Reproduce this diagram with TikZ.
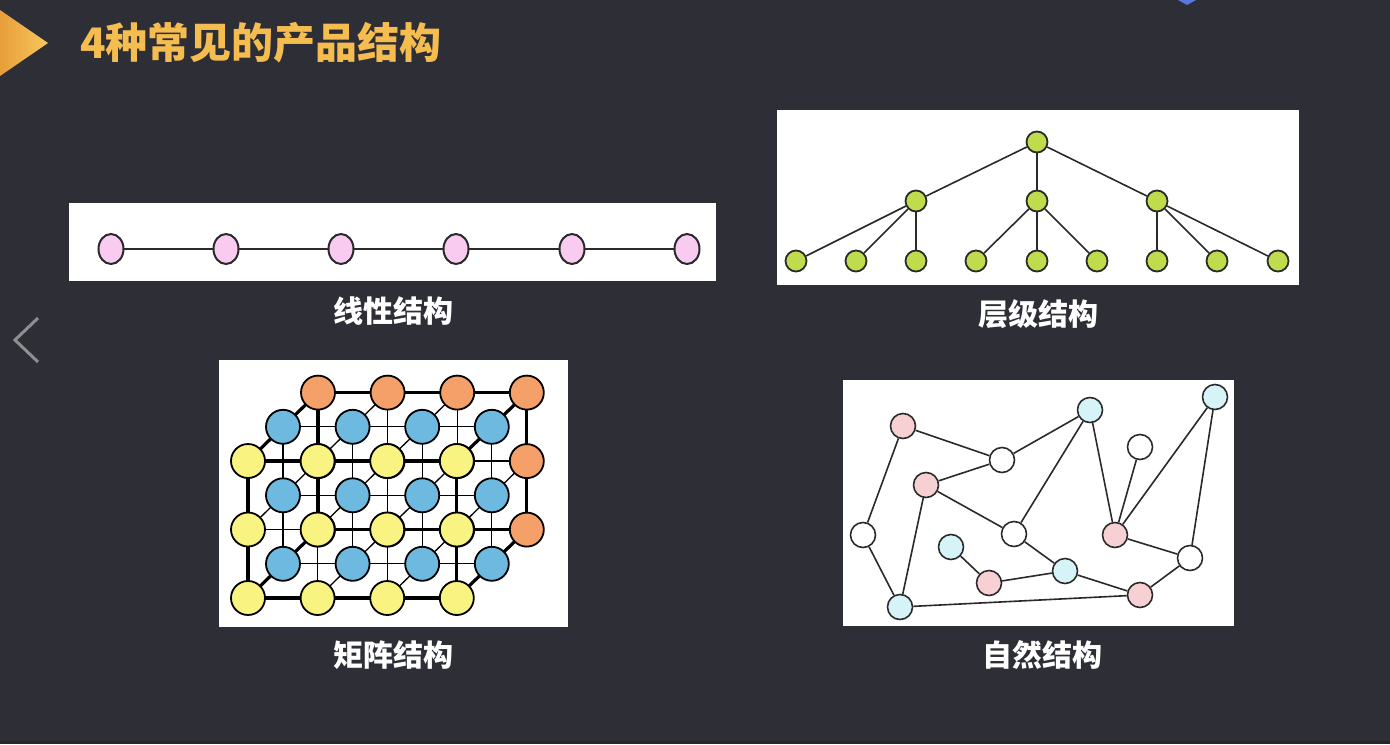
\documentclass[tikz,border=0pt]{standalone}
\usepackage{fontspec}
\newfontfamily\cjk{Noto Sans CJK SC}
\usetikzlibrary{shapes.geometric}
\definecolor{bg}{HTML}{2E2F36}
\definecolor{titlecol}{HTML}{F5BD50}
\definecolor{triL}{HTML}{E89E3A}
\definecolor{triR}{HTML}{F8C75C}
\definecolor{chev}{HTML}{8E8E92}
\definecolor{topblue}{HTML}{5A78E0}
\definecolor{lpink}{HTML}{F9CBF0}
\definecolor{hgreen}{HTML}{BEDC4C}
\definecolor{morange}{HTML}{F4A068}
\definecolor{mblue}{HTML}{6DB9DF}
\definecolor{myellow}{HTML}{F9F382}
\definecolor{npink}{HTML}{F6D0D2}
\definecolor{nblue}{HTML}{D6F3F8}
\definecolor{edge}{HTML}{2A2A2A}
\begin{document}
\begin{tikzpicture}[x=0.5pt,y=-0.5pt,
  panel/.style={fill=white,draw=none},
  lnode/.style={ellipse,draw=edge,line width=1pt,fill=lpink,minimum width=12.5pt,minimum height=15pt,inner sep=0pt},
  hnode/.style={circle,draw=edge,line width=0.9pt,fill=hgreen,minimum size=10.5pt,inner sep=0pt},
  mnode/.style={circle,draw=black,line width=0.9pt,minimum size=17pt,inner sep=0pt},
  nnode/.style={circle,draw=edge,line width=0.8pt,minimum size=12.5pt,inner sep=0pt},
  link/.style={draw=edge,line width=0.8pt},
  thinm/.style={draw=black,line width=0.65pt},
  thickm/.style={draw=black,line width=1.6pt},
  lbl/.style={text=white,font=\cjk\bfseries\fontsize{15pt}{15pt}\selectfont,inner sep=0pt}
]
% background
\fill[bg] (0,0) rectangle (1390,744);
\fill[black!85] (0,741) rectangle (1390,744);
% title
\shade[left color=triL,right color=triR] (0,10) -- (48,43) -- (0,76) -- cycle;
\node[anchor=west,text=titlecol,inner sep=0pt,font=\cjk\bfseries\fontsize{21pt}{21pt}\selectfont] (title) at (80,43) {4种常见的产品结构};
% chevron and top mark
\draw[chev,line width=1.5pt] (38,318) -- (15,340) -- (38,362);
\fill[topblue] (1178,0) -- (1187,5) -- (1196,0) -- cycle;

% ---------- linear ----------
\fill[panel] (69,203) rectangle (716,281);
\foreach \n/\x in {1/111,2/226,3/341,4/456,5/572,6/687}
  \coordinate (lc\n) at (\x,249);
\draw[link,line width=1pt] (lc1) -- (lc2) -- (lc3) -- (lc4) -- (lc5) -- (lc6);
\foreach \n in {1,...,6}
  \node[lnode] (l\n) at (lc\n) {};
\node[lbl] (lab1) at (393,311) {线性结构};

% ---------- hierarchy ----------
\fill[panel] (777,110) rectangle (1299,285);
\node[hnode] (h0) at (1037,142) {};
\node[hnode] (h1) at (916,201) {};
\node[hnode] (h2) at (1037,201) {};
\node[hnode] (h3) at (1157,201) {};
\foreach \n/\x in {1/796,2/856,3/916,4/976,5/1037,6/1097,7/1157,8/1217,9/1278}
  \node[hnode] (c\n) at (\x,261) {};
\foreach \a/\b in {h0/h1,h0/h2,h0/h3,h1/c1,h1/c2,h1/c3,h2/c4,h2/c5,h2/c6,h3/c7,h3/c8,h3/c9}
  \draw[link] (\a) -- (\b);
\node[lbl] (lab2) at (1038,314) {层级结构};

% ---------- matrix ----------
\fill[panel] (219,360) rectangle (568,627);
\foreach \i in {0,...,3}{
  \foreach \j in {0,...,2}{
    \foreach \k in {0,...,2}{
      \pgfmathsetmacro{\px}{248+69.6*\i+35*\k}
      \pgfmathsetmacro{\py}{598-68.5*\j-34.2*\k}
      \coordinate (p-\i-\j-\k) at (\px,\py);
    }}}
% thin lattice
\foreach \k in {0,1,2}{
  \foreach \j in {0,1,2}{
    \foreach \i/\ii in {0/1,1/2,2/3}{
      \draw[thinm] (p-\i-\j-\k) -- (p-\ii-\j-\k);
    }}
  \foreach \i in {0,...,3}{
    \foreach \j/\jj in {0/1,1/2}{
      \draw[thinm] (p-\i-\j-\k) -- (p-\i-\jj-\k);
    }}}
\foreach \i in {0,...,3}{
  \foreach \j in {0,1,2}{
    \foreach \k/\kk in {0/1,1/2}{
      \draw[thinm] (p-\i-\j-\k) -- (p-\i-\j-\kk);
    }}}
% thick cube edges
\draw[thickm] (p-0-0-0) -- (p-3-0-0) -- (p-3-2-0) -- (p-0-2-0) -- cycle;
\draw[thickm] (p-0-0-2) -- (p-3-0-2) -- (p-3-2-2) -- (p-0-2-2) -- cycle;
\draw[thickm] (p-0-0-0) -- (p-0-0-2);
\draw[thickm] (p-3-0-0) -- (p-3-0-2);
\draw[thickm] (p-0-2-0) -- (p-0-2-2);
\draw[thickm] (p-3-2-0) -- (p-3-2-2);
% circles back to front
\foreach \k/\col in {2/morange,1/mblue,0/myellow}{
  \foreach \i in {0,...,3}{
    \foreach \j in {0,...,2}{
      \node[mnode,fill=\col] (m-\i-\j-\k) at (p-\i-\j-\k) {};
    }}}
\node[lbl] (lab3) at (393,655) {矩阵结构};

% ---------- natural ----------
\fill[panel] (843,380) rectangle (1234,626);
\node[nnode,fill=npink] (A) at (903,426) {};
\node[nnode,fill=white] (B) at (1002,460) {};
\node[nnode,fill=nblue] (C) at (1090,410) {};
\node[nnode,fill=nblue] (D) at (1215,397) {};
\node[nnode,fill=white] (E) at (1140,447) {};
\node[nnode,fill=npink] (F) at (926,485) {};
\node[nnode,fill=white] (G) at (863,535) {};
\node[nnode,fill=white] (H) at (1014,534) {};
\node[nnode,fill=nblue] (I) at (951,547) {};
\node[nnode,fill=npink] (J) at (989,583) {};
\node[nnode,fill=nblue] (K) at (1065,571) {};
\node[nnode,fill=npink] (L) at (1115,535) {};
\node[nnode,fill=white] (M) at (1190,558) {};
\node[nnode,fill=npink] (N) at (1140,595) {};
\node[nnode,fill=nblue] (O) at (900,607) {};
\foreach \a/\b in {A/B,B/C,A/G,G/O,B/F,F/O,F/H,H/C,H/K,K/J,J/I,K/N,N/M,M/D,L/D,L/E,L/C,L/M,N/O}
  \draw[link] (\a) -- (\b);
\node[lbl] (lab4) at (1042,655) {自然结构};
\end{tikzpicture}
\end{document}
